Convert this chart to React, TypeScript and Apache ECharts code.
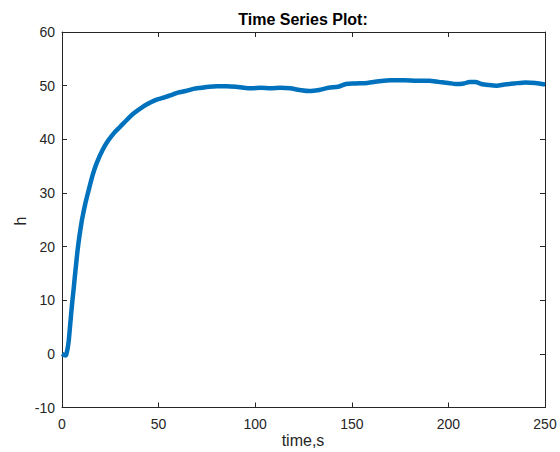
import React, { useEffect, useRef } from "react";
import * as echarts from "echarts";

const timeValues = [0, 1, 2, 2.5, 3, 3.5, 4, 4.5, 5, 5.5, 6, 6.7, 7.5, 8.1, 9, 10.2, 11, 12, 12.8, 14, 16, 18, 21, 24, 27, 30, 33.5, 37, 42, 46, 49, 53, 57, 60, 64, 68, 72, 76, 80, 85, 90, 94, 98, 103, 108, 113, 118, 123, 128, 133, 138, 143, 147, 152, 158, 164, 170, 177, 184, 190, 195, 200, 204, 208, 211, 214, 217, 221, 225, 229, 234, 240, 245, 250];
const hValues = [0, -0.2, -0.3, 0.3, 1.2, 2.5, 4.5, 6.5, 8.5, 10.3, 12, 14.6, 17.4, 19.4, 21.9, 24.7, 26.2, 27.9, 29.1, 30.8, 33.5, 35.6, 38.0, 39.8, 41.2, 42.3, 43.6, 44.8, 46.1, 46.9, 47.4, 47.8, 48.3, 48.7, 49.0, 49.4, 49.6, 49.8, 49.9, 49.9, 49.8, 49.6, 49.5, 49.6, 49.5, 49.6, 49.5, 49.2, 49.0, 49.2, 49.6, 49.8, 50.3, 50.4, 50.5, 50.8, 51.0, 51.0, 50.9, 50.9, 50.7, 50.5, 50.3, 50.4, 50.7, 50.7, 50.3, 50.1, 50.0, 50.2, 50.4, 50.6, 50.5, 50.2];

const xTicks = { min: 0, max: 250, interval: 50 };
const yTicks = { min: -10, max: 60, interval: 10 };

const titleText = "Time Series Plot:";
const xLabel = "time,s";
const yLabel = "h";

const FONT = "'Liberation Sans', Arial, Helvetica, sans-serif";
const INK = "#262626";

export default function App() {
  const ref = useRef<HTMLDivElement>(null);
  useEffect(() => {
    if (!ref.current) return;
    const chart = echarts.init(ref.current, undefined, { renderer: "svg" });
    const axisLine = { show: true, onZero: false, lineStyle: { color: INK, width: 1 } };
    const tick = { show: true, inside: true, length: 5, lineStyle: { color: INK, width: 1 } };
    const data = timeValues.map((t, i) => [t, hValues[i]]);
    chart.setOption({
      animation: false,
      backgroundColor: "#ffffff",
      grid: { left: 62, top: 32, width: 483, height: 375.5, containLabel: false },
      xAxis: [
        {
          type: "value", ...xTicks, position: "bottom",
          axisLine, axisTick: tick, splitLine: { show: false },
          axisLabel: { color: INK, fontSize: 14, fontFamily: FONT, margin: 9 },
        },
        {
          type: "value", ...xTicks, position: "top",
          axisLine, axisTick: tick, splitLine: { show: false },
          axisLabel: { show: false },
        },
      ],
      yAxis: [
        {
          type: "value", ...yTicks, position: "left",
          axisLine, axisTick: tick, splitLine: { show: false },
          axisLabel: { color: INK, fontSize: 14, fontFamily: FONT, margin: 7 },
        },
        {
          type: "value", ...yTicks, position: "right",
          axisLine, axisTick: tick, splitLine: { show: false },
          axisLabel: { show: false },
        },
      ],
      series: [
        {
          type: "line",
          data,
          xAxisIndex: 0,
          yAxisIndex: 0,
          showSymbol: false,
          smooth: 0.3,
          lineStyle: { color: "#0072BD", width: 4.5 },
        },
      ],
      graphic: [
        {
          type: "text", x: 303, y: 19,
          style: { text: titleText, fill: "#000", font: `bold 16px ${FONT}`, textAlign: "center", textVerticalAlign: "middle" },
        },
        {
          type: "text", x: 303, y: 440,
          style: { text: xLabel, fill: INK, font: `16px ${FONT}`, textAlign: "center", textVerticalAlign: "middle" },
        },
        {
          type: "text", x: 20, y: 221, rotation: Math.PI / 2,
          style: { text: yLabel, fill: INK, font: `16px ${FONT}`, textAlign: "center", textVerticalAlign: "middle" },
        },
      ],
    });
    return () => chart.dispose();
  }, []);
  return (
    <div
      ref={ref}
      style={{ position: "fixed", left: 0, top: 0, width: 560, height: 452, background: "#fff" }}
    />
  );
}
